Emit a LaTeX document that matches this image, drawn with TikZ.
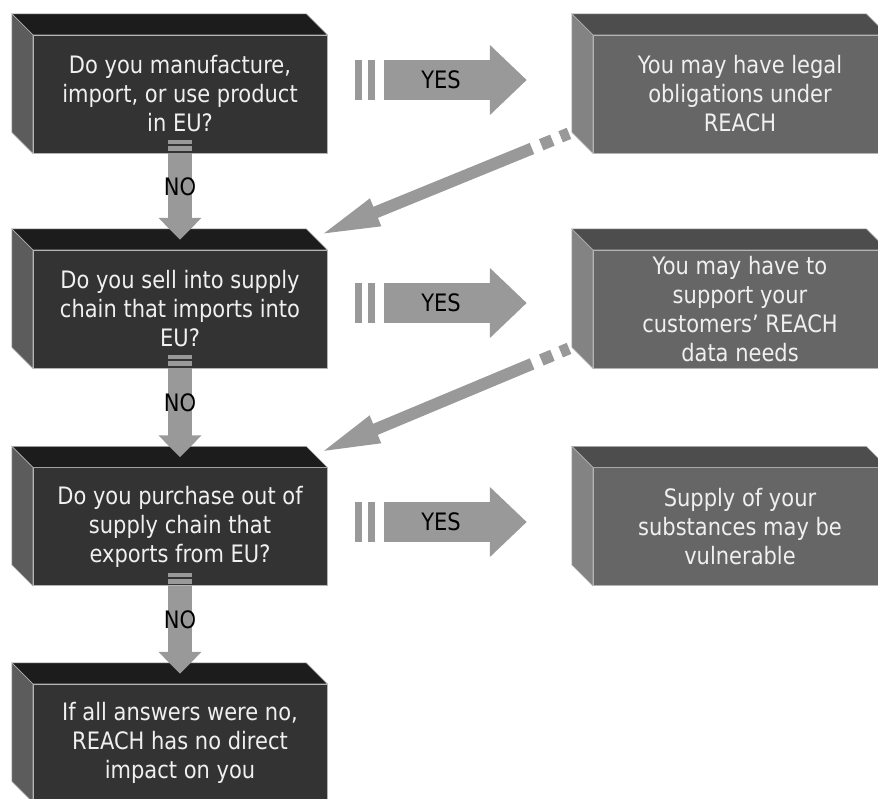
\documentclass[tikz,border=0pt]{standalone}
\usepackage{fontspec}
\setmainfont{DejaVu Sans}[FakeStretch=0.875]
\usepackage{tikz}
\usetikzlibrary{arrows.meta}
\definecolor{qfront}{HTML}{333333}
\definecolor{qtop}{HTML}{1C1C1C}
\definecolor{qside}{HTML}{5C5C5C}
\definecolor{afront}{HTML}{666666}
\definecolor{atop}{HTML}{4D4D4D}
\definecolor{aside}{HTML}{838383}
\definecolor{edge}{HTML}{B4B4B4}
\definecolor{arrowgrey}{HTML}{999999}

\begin{document}
\begin{tikzpicture}[x=1pt,y=-1pt,
  box/.style={rectangle,minimum width=294pt,minimum height=118pt,inner sep=0pt,draw=edge,line width=0.5pt,
    align=center,text=white!94!black,font=\fontsize{24}{29}\selectfont},
  qbox/.style={box,fill=qfront},
  abox/.style={box,fill=afront},
  lbl/.style={font=\fontsize{24}{29}\selectfont,text=black},
  no/.style={draw=arrowgrey,line width=24pt,-{Triangle[length=22pt,width=42pt]},
    dash pattern=on 4pt off 2pt on 5pt off 2pt on 400pt},
  yes/.style={draw=arrowgrey,line width=40pt,-{Triangle[length=37pt,width=68pt]},
    dash pattern=on 7pt off 6pt on 7pt off 9pt on 400pt},
  back/.style={draw=arrowgrey,line width=12pt,-{Triangle[length=62pt,width=26pt]},
    dash pattern=on 0pt off 3pt on 9pt off 9pt on 12pt off 10pt on 600pt}]
\useasboundingbox (0,0) rectangle (878,798);
\clip (0,0) rectangle (878,798);

\node[qbox] (q1) at (180,94) {Do you manufacture,\\import, or use product\\in EU?};
\node[qbox] (q2) at (180,309) {Do you sell into supply\\chain that imports into\\EU?};
\node[qbox] (q3) at (180,526.5) {Do you purchase out of\\supply chain that\\exports from EU?};
\node[qbox] (q4) at (180,743) {If all answers were no,\\REACH has no direct\\impact on you};
\node[abox] (a1) at (740,94) {You may have legal\\obligations under\\REACH};
\node[abox] (a2) at (740,309) {You may have to\\support your\\customers’ REACH\\data needs};
\node[abox] (a3) at (740,526.5) {Supply of your\\substances may be\\vulnerable};

\foreach \n/\t/\s in {q1/qtop/qside,q2/qtop/qside,q3/qtop/qside,q4/qtop/qside,a1/atop/aside,a2/atop/aside,a3/atop/aside}{
  \filldraw[fill=\t,draw=edge,line width=0.5pt] (\n.north west) -- ++(-21pt,21pt) -- ([shift={(-21pt,21pt)}]\n.north east) -- (\n.north east) -- cycle;
  \filldraw[fill=\s,draw=edge,line width=0.5pt] (\n.north west) -- ++(-21pt,21pt) -- ([shift={(-21pt,21pt)}]\n.south west) -- (\n.south west) -- cycle;
}

\draw[no] ([yshift=13pt]q1.south) -- node[lbl,pos=.47]{NO} ([yshift=10pt]q2.north);
\draw[no] ([yshift=13pt]q2.south) -- node[lbl,pos=.47]{NO} ([yshift=10pt]q3.north);
\draw[no] ([yshift=13pt]q3.south) -- node[lbl,pos=.47]{NO} ([yshift=10pt]q4.north);

\draw[yes] ([shift={(28pt,14pt)}]q1.east) -- node[lbl]{YES} ([shift={(-66pt,14pt)}]a1.west);
\draw[yes] ([shift={(28pt,6pt)}]q2.east) -- node[lbl]{YES} ([shift={(-66pt,6pt)}]a2.west);
\draw[yes] ([shift={(28pt,4.5pt)}]q3.east) -- node[lbl]{YES} ([shift={(-66pt,4.5pt)}]a3.west);

\draw[back] ([shift={(-21pt,21pt)}]a1.south west) -- ([shift={(-9pt,14pt)}]q2.north east);
\draw[back] ([shift={(-21pt,21pt)}]a2.south west) -- ([shift={(-9pt,14pt)}]q3.north east);
\end{tikzpicture}
\end{document}
